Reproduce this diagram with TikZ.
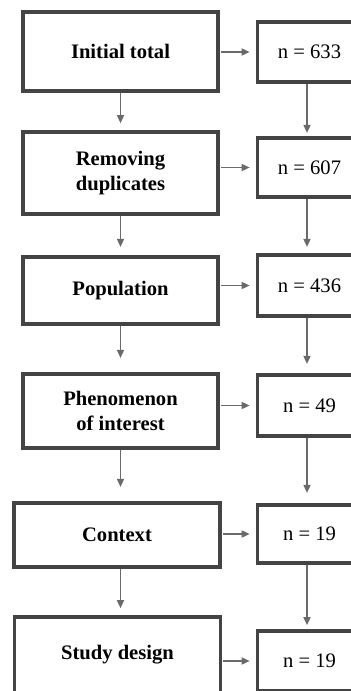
\documentclass[tikz,border=0pt]{standalone}
\usepackage{fontspec}
\setmainfont{Liberation Serif}
\usetikzlibrary{arrows.meta}
\definecolor{boxgray}{HTML}{444444}
\definecolor{arrowgray}{HTML}{6A6A6A}

\begin{document}
\begin{tikzpicture}[x=0.5pt,y=-0.5pt,
		stage/.style={draw=boxgray,line width=1.9pt,fill=white,inner sep=0pt,minimum width=97.75pt,align=center,font=\fontsize{10.3}{12.5}\selectfont\bfseries},
		count/.style={draw=boxgray,line width=1.9pt,fill=white,inner sep=0pt,minimum width=52pt,font=\fontsize{10.3}{12.5}\selectfont},
		flow/.style={draw=arrowgray,line width=0.6pt,-{Triangle[length=4pt,width=3.6pt]}}]
		\useasboundingbox (0,0) rectangle (351,691);

		% left column: screening stages
		\node[stage,minimum height=39.75pt] (initial) at (120.5,51.5) {Initial total};
		\node[stage,minimum height=41pt] (duplicates) at (120.5,173) {Removing\\duplicates};
		\node[stage,minimum height=33.75pt] (population) at (120.5,290.5) {Population};
		\node[stage,minimum height=37.25pt] (phenomenon) at (120.5,411) {Phenomenon\\of interest};
		\node[stage,minimum width=103pt,minimum height=32.25pt] (context) at (117,535) {Context};
		\node[stage,minimum width=103pt,minimum height=38pt] (design) at (117.5,655) {Study design};

		% right column: counts
		\node[count,minimum height=30.25pt] (n1) at (309.5,52) {n = 633};
		\node[count,minimum height=29.75pt] (n2) at (309.5,167.5) {n = 607};
		\node[count,minimum height=30.75pt] (n3) at (309.5,285.5) {n = 436};
		\node[count,minimum height=30.75pt] (n4) at (309.5,405.5) {n = 49};
		\node[count,minimum height=29.25pt] (n5) at (309.5,534) {n = 19};
		\node[count,minimum height=30pt] (n6) at (309.5,661) {n = 19};

		% stage -> count
		\draw[flow,shorten <=0.5pt,shorten >=3pt] (n1.west -| initial.east) -- (n1.west);
		\draw[flow,shorten <=0.5pt,shorten >=3pt] (n2.west -| duplicates.east) -- (n2.west);
		\draw[flow,shorten <=0.5pt,shorten >=3pt] (n3.west -| population.east) -- (n3.west);
		\draw[flow,shorten <=0.5pt,shorten >=3pt] (n4.west -| phenomenon.east) -- (n4.west);
		\draw[flow,shorten <=0.5pt,shorten >=3pt] (n5.west -| context.east) -- (n5.west);
		\draw[flow,shorten <=0.5pt,shorten >=3pt] (n6.west -| design.east) -- (n6.west);

		% stage -> stage
		\draw[flow,shorten >=3.5pt] (initial.south) -- (duplicates.north);
		\draw[flow,shorten >=4pt] (duplicates.south) -- (population.north);
		\draw[flow,shorten >=7pt] (population.south) -- (phenomenon.north);
		\draw[flow,shorten >=7pt] (phenomenon.south) -- (phenomenon.south |- context.north);
		\draw[flow,shorten >=3.5pt] (context.south -| initial.south) -- (initial.south |- design.north);

		% count -> count
		\draw[flow,shorten >=1.5pt] ([xshift=-1.25pt]n1.south) -- ([xshift=-1.25pt]n2.north);
		\draw[flow,shorten >=3pt] ([xshift=-1.25pt]n2.south) -- ([xshift=-1.25pt]n3.north);
		\draw[flow,shorten >=4.5pt] ([xshift=-1.25pt]n3.south) -- ([xshift=-1.25pt]n4.north);
		\draw[flow,shorten >=5pt] ([xshift=-1.25pt]n4.south) -- ([xshift=-1.25pt]n5.north);
		\draw[flow,shorten >=2pt] ([xshift=-1.25pt]n5.south) -- ([xshift=-1.25pt]n6.north);
\end{tikzpicture}
\end{document}
